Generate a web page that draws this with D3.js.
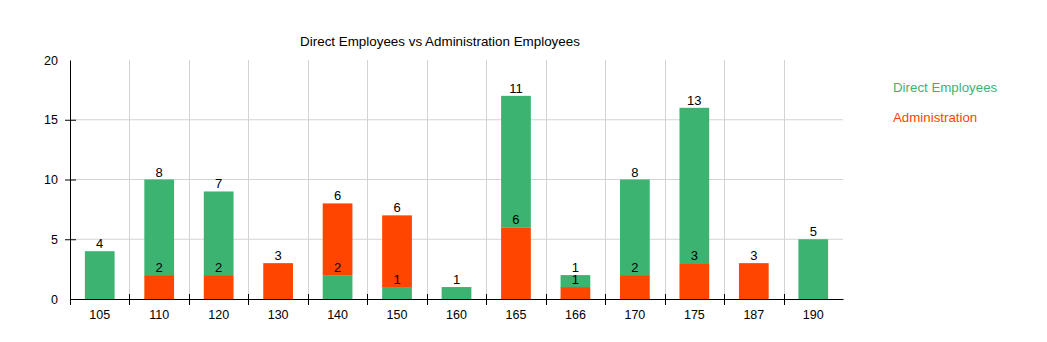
<!DOCTYPE html>
<html>
<head>
<meta charset="utf-8">
<script src="https://cdn.jsdelivr.net/npm/d3@7"></script>
<style>
  body { margin: 0; background: #fff; }
  svg { font-family: "Liberation Sans", Arial, sans-serif; }
</style>
</head>
<body>
<div id="chart"></div>
<script>
// data
const categories = ["105", "110", "120", "130", "140", "150", "160", "165", "166", "170", "175", "187", "190"];
const directEmployees = [4, 8, 7, 0, 2, 1, 1, 11, 1, 8, 13, 0, 5];
const administration = [0, 2, 2, 3, 6, 6, 0, 6, 1, 2, 3, 3, 0];
const yTicks = [0, 5, 10, 15, 20];

const seriesNames = ["Direct Employees", "Administration"];
const colors = { "Direct Employees": "#3cb371", "Administration": "#ff4500" };

const width = 1047, height = 342;
const margin = { top: 60, right: 204, bottom: 43, left: 70 };
const innerW = width - margin.left - margin.right;
const innerH = height - margin.top - margin.bottom;

const svg = d3.select("#chart").append("svg")
    .attr("width", width)
    .attr("height", height);

const g = svg.append("g").attr("transform", `translate(${margin.left},${margin.top})`);

const x = d3.scaleBand().domain(categories).range([0, innerW]).paddingInner(0).paddingOuter(0);
const y = d3.scaleLinear().domain([0, 20]).range([innerH, 0]);
const barW = x.bandwidth() * 0.5;

// grid
g.append("g").selectAll("line.h")
    .data([5, 10, 15])
    .join("line")
    .attr("x1", 0).attr("x2", innerW)
    .attr("y1", d => y(d)).attr("y2", d => y(d))
    .attr("stroke", "#d3d3d3").attr("stroke-width", 1);

g.append("g").selectAll("line.v")
    .data(categories.slice(1))
    .join("line")
    .attr("x1", d => Math.round(x(d)) + 0.5).attr("x2", d => Math.round(x(d)) + 0.5)
    .attr("y1", 0).attr("y2", innerH)
    .attr("stroke", "#d3d3d3").attr("stroke-width", 1);

// stacked bars: smaller segment sits at the bottom
const stacks = categories.map((c, i) => {
    const segs = [
        { key: "Administration", value: administration[i] },
        { key: "Direct Employees", value: directEmployees[i] }
    ];
    if (segs[0].value > segs[1].value) segs.reverse();
    let base = 0;
    return segs.filter(s => s.value > 0).map(s => {
        const r = { cat: c, key: s.key, value: s.value, y0: base, y1: base + s.value };
        base += s.value;
        return r;
    });
}).flat();

g.append("g").selectAll("rect")
    .data(stacks)
    .join("rect")
    .attr("x", d => x(d.cat) + (x.bandwidth() - barW) / 2)
    .attr("width", barW)
    .attr("y", d => y(d.y1))
    .attr("height", d => y(d.y0) - y(d.y1))
    .attr("fill", d => colors[d.key]);

g.append("g").selectAll("text")
    .data(stacks)
    .join("text")
    .attr("x", d => x(d.cat) + x.bandwidth() / 2)
    .attr("y", d => y(d.y1) - 3)
    .attr("text-anchor", "middle")
    .attr("font-size", 13)
    .attr("fill", "#000")
    .text(d => d.value);

// axes
const xAxis = g.append("g")
    .attr("transform", `translate(0,${innerH})`)
    .call(d3.axisBottom(x).tickSize(0).tickPadding(11));
xAxis.select(".domain").attr("stroke", "#000");
xAxis.selectAll("text").attr("font-size", 12.5).attr("fill", "#000")
    .attr("font-family", "Liberation Sans, Arial, sans-serif");
xAxis.append("g").selectAll("line")
    .data(categories)
    .join("line")
    .attr("x1", d => Math.round(x(d)) + 0.5).attr("x2", d => Math.round(x(d)) + 0.5)
    .attr("y1", -5).attr("y2", 6)
    .attr("stroke", "#000");

const yAxis = g.append("g")
    .call(d3.axisLeft(y).tickValues(yTicks).tickSize(0).tickPadding(12));
yAxis.select(".domain").attr("stroke", "#000");
yAxis.selectAll("text").attr("font-size", 12.5).attr("fill", "#000")
    .attr("font-family", "Liberation Sans, Arial, sans-serif");
yAxis.append("g").selectAll("line")
    .data([5, 10, 15])
    .join("line")
    .attr("x1", -5).attr("x2", 6)
    .attr("y1", d => y(d) + 0.5).attr("y2", d => y(d) + 0.5)
    .attr("stroke", "#000");

// title
svg.append("text")
    .attr("x", 440).attr("y", 46)
    .attr("text-anchor", "middle")
    .attr("font-size", 13.4)
    .attr("fill", "#000")
    .text("Direct Employees vs Administration Employees");

// legend
svg.append("g").selectAll("text")
    .data(seriesNames)
    .join("text")
    .attr("x", 893)
    .attr("y", (d, i) => 92 + i * 30)
    .attr("font-size", 13.3)
    .attr("fill", d => colors[d])
    .text(d => d);
</script>
</body>
</html>
